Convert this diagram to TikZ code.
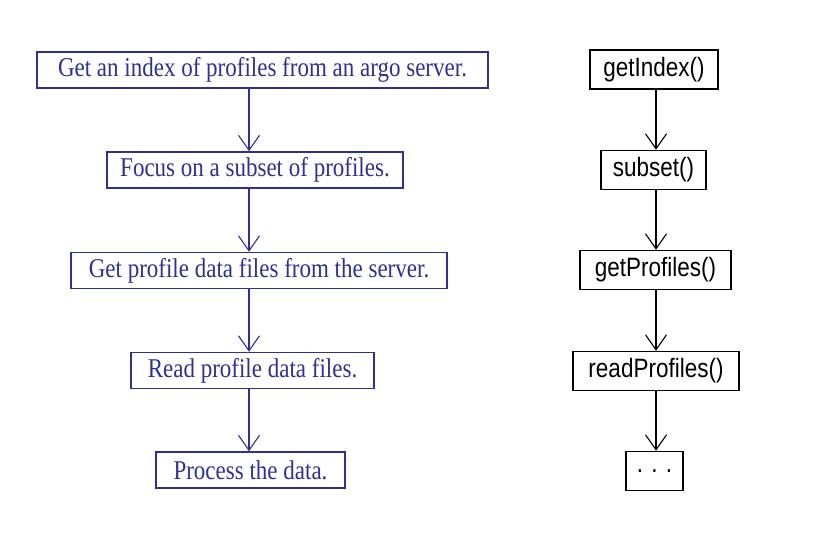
\documentclass[tikz,border=0pt]{standalone}
\usepackage{fontspec}
\setmainfont{Liberation Serif}
\newfontfamily\helv{Liberation Sans}
\usetikzlibrary{arrows.meta}
\definecolor{lblue}{RGB}{46,49,146}
\newcommand{\vstretch}[1]{\scalebox{1}[1.18]{#1}}
\begin{document}
\begin{tikzpicture}[x=1pt,y=-1pt,
  lbox/.style={draw=lblue,text=lblue,line width=1.5pt,inner sep=0pt,font=\fontsize{23}{26}\selectfont,minimum height=36pt},
  rbox/.style={draw=black,text=black,line width=1.5pt,inner sep=0pt,font=\helv\fontsize{22.5}{26}\selectfont,minimum height=39pt},
  larr/.style={draw=lblue,line width=1.1pt,-{Straight Barb[length=15pt,width=21pt,line width=1.1pt]}},
  rarr/.style={draw=black,line width=1.1pt,-{Straight Barb[length=15pt,width=21pt,line width=1.1pt]}}]
\useasboundingbox (0,0) rectangle (826,541);
\fill[white] (0,0) rectangle (826,541);
\coordinate (axL) at (249,0);
\coordinate (axR) at (656,0);
\node[lbox,minimum width=451pt] (b1) at (262.5,70) {\vstretch{Get an index of profiles from an argo server.}};
\node[lbox,minimum width=296pt] (b2) at (255,170) {\vstretch{Focus on a subset of profiles.}};
\node[lbox,minimum width=376pt] (b3) at (259,270.5) {\vstretch{Get profile data files from the server.}};
\node[lbox,minimum width=243pt] (b4) at (252.5,370.5) {\vstretch{Read profile data files.}};
\node[lbox,minimum width=189pt] (b5) at (250.5,470) {\vstretch{Process the data.}};
\node[rbox,minimum width=128pt] (r1) at (654,69.5) {\vstretch{getIndex()}};
\node[rbox,minimum width=105pt] (r2) at (653.5,170) {\vstretch{subset()}};
\node[rbox,minimum width=151pt] (r3) at (655.5,270) {\vstretch{getProfiles()}};
\node[rbox,minimum width=166pt] (r4) at (656,371) {\vstretch{readProfiles()}};
\node[rbox,minimum width=57pt] (r5) at (654.5,471) {\vstretch{. . .}};
\foreach \a/\b in {b1/b2,b2/b3,b3/b4,b4/b5}{
  \draw[larr] (\a.south -| axL) -- (\b.north -| axL);
}
\foreach \a/\b in {r1/r2,r2/r3,r3/r4,r4/r5}{
  \draw[rarr] (\a.south -| axR) -- (\b.north -| axR);
}
\end{tikzpicture}
\end{document}
